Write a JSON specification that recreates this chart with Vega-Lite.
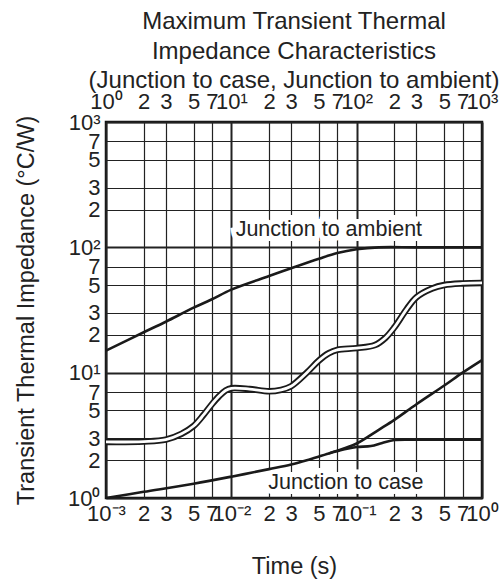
{
 "$schema": "https://vega.github.io/schema/vega-lite/v6.json",
 "width": 376,
 "height": 376,
 "autosize": {"type": "none"},
 "padding": {"left": 106, "top": 122, "right": 22, "bottom": 83},
 "background": "white",
 "title": {
  "text": ["Maximum Transient Thermal", "Impedance Characteristics", "(Junction to case, Junction to ambient)"],
  "font": "Liberation Sans", "fontSize": 24, "fontWeight": "normal", "color": "#222",
  "lineHeight": 29.5, "offset": -3, "anchor": "middle"
 },
 "config": {
  "view": {"stroke": "#111", "strokeWidth": 2.5},
  "axis": {
   "labelFont": "Liberation Sans", "labelFontSize": 22, "labelColor": "#222",
   "titleFont": "Liberation Sans", "titleFontSize": 23.5, "titleFontWeight": "normal", "titleColor": "#222",
   "ticks": false, "domain": false, "labelOverlap": false, "labelFlush": false, "labelBound": false,
   "gridColor": "#222", "gridOpacity": 1
  }
 },
 "datasets": {
  "curves": [
   {"s": "ja", "t": 0.001, "z": 15},
   {"s": "ja", "t": 0.002, "z": 21},
   {"s": "ja", "t": 0.003, "z": 25.5},
   {"s": "ja", "t": 0.005, "z": 33},
   {"s": "ja", "t": 0.007, "z": 38.5},
   {"s": "ja", "t": 0.01, "z": 46},
   {"s": "ja", "t": 0.02, "z": 59},
   {"s": "ja", "t": 0.03, "z": 68},
   {"s": "ja", "t": 0.05, "z": 81},
   {"s": "ja", "t": 0.07, "z": 90},
   {"s": "ja", "t": 0.1, "z": 96.5},
   {"s": "ja", "t": 0.15, "z": 100},
   {"s": "ja", "t": 0.3, "z": 100},
   {"s": "ja", "t": 1, "z": 100},
   {"s": "mid", "t": 0.001, "z": 2.8},
   {"s": "mid", "t": 0.002, "z": 2.82},
   {"s": "mid", "t": 0.003, "z": 2.92},
   {"s": "mid", "t": 0.004, "z": 3.25},
   {"s": "mid", "t": 0.005, "z": 3.75},
   {"s": "mid", "t": 0.006, "z": 4.6},
   {"s": "mid", "t": 0.007, "z": 5.6},
   {"s": "mid", "t": 0.008, "z": 6.5},
   {"s": "mid", "t": 0.009, "z": 7.2},
   {"s": "mid", "t": 0.01, "z": 7.5},
   {"s": "mid", "t": 0.014, "z": 7.4},
   {"s": "mid", "t": 0.02, "z": 7.1},
   {"s": "mid", "t": 0.025, "z": 7.3},
   {"s": "mid", "t": 0.03, "z": 7.8},
   {"s": "mid", "t": 0.04, "z": 10},
   {"s": "mid", "t": 0.05, "z": 12.5},
   {"s": "mid", "t": 0.06, "z": 14.3},
   {"s": "mid", "t": 0.07, "z": 15.2},
   {"s": "mid", "t": 0.1, "z": 15.7},
   {"s": "mid", "t": 0.14, "z": 16.6},
   {"s": "mid", "t": 0.17, "z": 19},
   {"s": "mid", "t": 0.2, "z": 23},
   {"s": "mid", "t": 0.25, "z": 32},
   {"s": "mid", "t": 0.3, "z": 40},
   {"s": "mid", "t": 0.4, "z": 47},
   {"s": "mid", "t": 0.5, "z": 50},
   {"s": "mid", "t": 0.7, "z": 51.5},
   {"s": "mid", "t": 1, "z": 52},
   {"s": "jc", "t": 0.001, "z": 1},
   {"s": "jc", "t": 0.002, "z": 1.12},
   {"s": "jc", "t": 0.005, "z": 1.3},
   {"s": "jc", "t": 0.01, "z": 1.48},
   {"s": "jc", "t": 0.02, "z": 1.7},
   {"s": "jc", "t": 0.03, "z": 1.85},
   {"s": "jc", "t": 0.04, "z": 2},
   {"s": "jc", "t": 0.06, "z": 2.27},
   {"s": "jc", "t": 0.08, "z": 2.45},
   {"s": "jc", "t": 0.1, "z": 2.55},
   {"s": "jc", "t": 0.13, "z": 2.6},
   {"s": "jc", "t": 0.16, "z": 2.75},
   {"s": "jc", "t": 0.2, "z": 2.9},
   {"s": "jc", "t": 0.3, "z": 2.92},
   {"s": "jc", "t": 1, "z": 2.92},
   {"s": "jc2", "t": 0.06, "z": 2.27},
   {"s": "jc2", "t": 0.08, "z": 2.5},
   {"s": "jc2", "t": 0.1, "z": 2.72},
   {"s": "jc2", "t": 0.15, "z": 3.5},
   {"s": "jc2", "t": 0.2, "z": 4.2},
   {"s": "jc2", "t": 0.3, "z": 5.6},
   {"s": "jc2", "t": 0.5, "z": 7.9},
   {"s": "jc2", "t": 0.7, "z": 10},
   {"s": "jc2", "t": 1, "z": 12.6}
  ],
  "labels": [
   {"label": "Junction to ambient", "t": 0.06, "z": 138},
   {"label": "Junction to case", "t": 0.082, "z": 1.32}
  ]
 },
 "layer": [
  {
   "encoding": {
    "x": {
     "field": "t", "type": "quantitative",
     "scale": {"type": "log", "domain": [0.001, 1]},
     "axis": {
      "orient": "bottom",
      "values": [0.001, 0.002, 0.003, 0.005, 0.007, 0.01, 0.02, 0.03, 0.05, 0.07, 0.1, 0.2, 0.3, 0.5, 0.7, 1],
      "labelExpr": "datum.value == 0.001 ? '10⁻³' : datum.value == 0.01 ? '10⁻²' : datum.value == 0.1 ? '10⁻¹' : datum.value == 1 ? '10⁰' : slice(format(datum.value, '.0e'), 0, 1)",
      "grid": true,
      "gridWidth": {"condition": {"test": "datum.value == 0.001 || datum.value == 0.01 || datum.value == 0.1 || datum.value == 1", "value": 2}, "value": 1.2},
      "labelPadding": 5,
      "title": "Time  (s)",
      "titleFontWeight": "normal",
      "titlePadding": 30
     }
    },
    "y": {
     "field": "z", "type": "quantitative",
     "scale": {"type": "log", "domain": [1, 1000]},
     "axis": {
      "values": [1, 2, 3, 5, 7, 10, 20, 30, 50, 70, 100, 200, 300, 500, 700, 1000],
      "labelExpr": "datum.value == 1 ? '10⁰' : datum.value == 10 ? '10¹' : datum.value == 100 ? '10²' : datum.value == 1000 ? '10³' : slice(format(datum.value, '.0e'), 0, 1)",
      "grid": true,
      "gridWidth": {"condition": {"test": "datum.value == 1 || datum.value == 10 || datum.value == 100 || datum.value == 1000", "value": 2}, "value": 1.2},
      "labelPadding": 6,
      "title": "Transient Thermal Impedance  (°C/W)",
      "titleFontWeight": "normal",
      "titlePadding": 29
     }
    }
   },
   "layer": [
    {
     "data": {"name": "labels"},
     "mark": {"type": "text", "font": "Liberation Sans", "fontSize": 21.5, "fill": "white", "stroke": "white", "strokeWidth": 10},
     "encoding": {"text": {"field": "label"}}
    },
    {
     "data": {"name": "labels"},
     "mark": {"type": "text", "font": "Liberation Sans", "fontSize": 21.5, "fill": "#222"},
     "encoding": {"text": {"field": "label"}}
    },
    {
     "data": {"name": "curves"},
     "transform": [{"filter": "datum.s != 'mid'"}],
     "mark": {"type": "line", "color": "#1a1a1a", "strokeWidth": 2.6, "interpolate": "catmull-rom"},
     "encoding": {"detail": {"field": "s"}}
    },
    {
     "data": {"name": "curves"},
     "transform": [{"filter": "datum.s == 'mid'"}],
     "mark": {"type": "line", "color": "#1a1a1a", "strokeWidth": 6.5, "interpolate": "catmull-rom"},
     "encoding": {}
    },
    {
     "data": {"name": "curves"},
     "transform": [{"filter": "datum.s == 'mid'"}],
     "mark": {"type": "line", "color": "white", "strokeWidth": 2.8, "interpolate": "catmull-rom"},
     "encoding": {}
    }
   ]
  },
  {
   "data": {"values": [{"p": 1}, {"p": 1000}]},
   "mark": {"type": "point", "opacity": 0},
   "encoding": {
    "x": {
     "field": "p", "type": "quantitative",
     "scale": {"type": "log", "domain": [1, 1000]},
     "axis": {
      "orient": "top",
      "values": [1, 2, 3, 5, 7, 10, 20, 30, 50, 70, 100, 200, 300, 500, 700, 1000],
      "labelExpr": "datum.value == 1 ? '10⁰' : datum.value == 10 ? '10¹' : datum.value == 100 ? '10²' : datum.value == 1000 ? '10³' : slice(format(datum.value, '.0e'), 0, 1)",
      "grid": false,
      "labelPadding": 9,
      "title": null
     }
    },
    "y": {"value": 0}
   }
  }
 ],
 "resolve": {"scale": {"x": "independent"}, "axis": {"x": "independent"}}
}
